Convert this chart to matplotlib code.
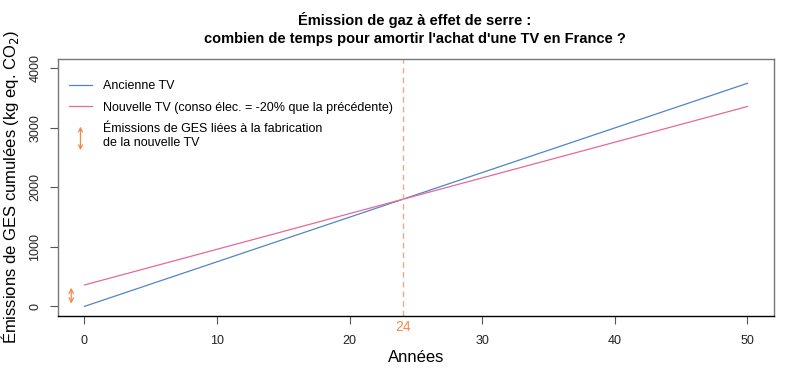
import numpy as np
import matplotlib
matplotlib.use("Agg")
import matplotlib.pyplot as plt
from matplotlib.lines import Line2D
from matplotlib.patches import FancyArrowPatch
from matplotlib.legend_handler import HandlerBase

plt.rcParams["font.family"] = ["Liberation Sans", "DejaVu Sans"]

# ---------- DATA ----------
annees = [0, 50]
ancienne_tv = [0, 3750]
nouvelle_tv = [360, 3360]
fabrication = [0, 360]      # bar of the arrow at x = -1
annee_amortie = 24
y_ticks = [0, 1000, 2000, 3000, 4000]
x_ticks = [0, 10, 20, 30, 40, 50]

c_old = "#4f86c6"
c_new = "#e8689a"
c_arrow = "#f08a4b"

# ---------- PLOT ----------
fig = plt.figure(figsize=(8.05, 3.9), dpi=100)
ax = fig.add_axes([0.072, 0.19, 0.8895, 0.659])

ax.plot(annees, ancienne_tv, color=c_old, lw=0.9, label="Ancienne TV")
ax.plot(annees, nouvelle_tv, color=c_new, lw=0.9,
        label="Nouvelle TV (conso élec. = -20% que la précédente)")
ax.axvline(annee_amortie, color="#eeaa88", lw=1.0, ls=(0, (4, 3)))

ax.annotate("", xy=(-1, fabrication[0]), xytext=(-1, fabrication[1]),
            arrowprops=dict(arrowstyle="<->", color=c_arrow, lw=0.9,
                            mutation_scale=8))

ax.set_xlim(-2, 52)
ax.set_ylim(-160, 4160)
ax.set_xticks(x_ticks)
ax.set_yticks(y_ticks)
ax.set_yticklabels([str(v) for v in y_ticks], rotation=90, va="center")
ax.tick_params(axis="both", direction="out", length=6, labelsize=9,
               color="#555555", labelcolor="#222222")
ax.tick_params(axis="x", pad=8)
ax.tick_params(axis="y", pad=6)

for s in ax.spines.values():
    s.set_color("#777777")
    s.set_linewidth(1.0)
ax.spines["bottom"].set_color("black")

ax.text(annee_amortie, -230, "24", color=c_arrow, ha="center", va="top",
        fontsize=10)

ax.set_xlabel("Années", fontsize=12, labelpad=2)
ax.set_ylabel("Émissions de GES cumulées (kg eq. CO$_2$)", fontsize=12,
              labelpad=6)
fig.suptitle("Émission de gaz à effet de serre :\n"
             "combien de temps pour amortir l'achat d'une TV en France ?",
             fontsize=10.5, fontweight="bold", y=0.968, x=0.515,
             linespacing=1.35)


# legend (R style, no frame) with a double arrow for the last entry
class ArrowHandler(HandlerBase):
    def create_artists(self, legend, orig, xd, yd, w, h, fontsize, trans):
        x = -xd + w / 2
        a = FancyArrowPatch((x, -yd - 1.1 * h), (x, -yd + 1.6 * h),
                            arrowstyle="<->", mutation_scale=7,
                            color=c_arrow, lw=0.9, transform=trans,
                            shrinkA=0, shrinkB=0)
        return [a]


h_old = Line2D([], [], color=c_old, lw=0.9)
h_new = Line2D([], [], color=c_new, lw=0.9)
h_arr = Line2D([], [])
leg = ax.legend([h_old, h_new, h_arr],
                ["Ancienne TV",
                 "Nouvelle TV (conso élec. = -20% que la précédente)",
                 "Émissions de GES liées à la fabrication\nde la nouvelle TV"],
                handler_map={h_arr: ArrowHandler()},
                loc="upper left", frameon=False, fontsize=9,
                handlelength=1.8, handletextpad=0.9, labelspacing=0.75,
                bbox_to_anchor=(0.0, 0.96))

fig.savefig("out.png", dpi=100)
